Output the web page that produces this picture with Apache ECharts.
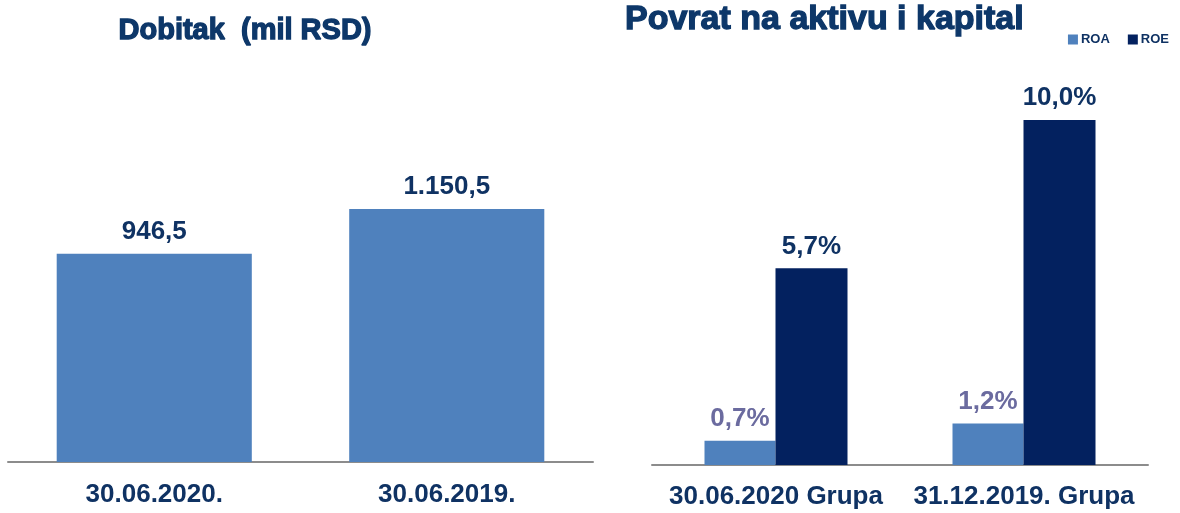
<!DOCTYPE html>
<html>
<head>
<meta charset="utf-8">
<script src="https://cdn.jsdelivr.net/npm/echarts@6/dist/echarts.min.js"></script>
<style>
  html, body { margin: 0; padding: 0; background: #fff; }
  #chart { width: 1180px; height: 513px; }
</style>
</head>
<body>
<div id="chart"></div>
<script>
// podaci
const profitDates = ['30.06.2020.', '30.06.2019.'];
const profitValues = [946.5, 1150.5];

const returnDates = ['30.06.2020 Grupa', '31.12.2019. Grupa'];
const roaValues = [0.7, 1.2];
const roeValues = [5.7, 10.0];

const navy = '#0f3263';
const titleColor = '#0d3769';

// 1150.5 -> "1.150,5"
function fmtNum(v) {
  const parts = v.toFixed(1).split('.');
  const whole = parts[0].replace(/\B(?=(\d{3})+(?!\d))/g, '.');
  return whole + ',' + parts[1];
}

const chart = echarts.init(document.getElementById('chart'));

const labelFont = { fontFamily: 'Liberation Sans', fontWeight: 'bold', fontSize: 26 };
const titleFont = {
  fontFamily: 'Liberation Sans', fontWeight: 'bold', color: titleColor,
  textBorderColor: titleColor, textBorderWidth: 1.3
};

chart.setOption({
  animation: false,
  title: [
    {
      text: 'Dobitak  (mil RSD)',
      left: 240, top: 11, textAlign: 'center',
      textStyle: Object.assign({ fontSize: 29 }, titleFont)
    },
    {
      text: 'Povrat na aktivu i kapital',
      left: 620, top: -2,
      textStyle: Object.assign({ fontSize: 34 }, titleFont)
    }
  ],
  legend: {
    data: ['ROA', 'ROE'],
    right: 6, top: 28,
    itemWidth: 10, itemHeight: 10, itemGap: 18,
    icon: 'rect',
    textStyle: { fontFamily: 'Liberation Sans', fontWeight: 'bold', fontSize: 13, color: navy, padding: [0, 0, 0, -2] }
  },
  grid: [
    { left: 8, width: 585, top: 66, bottom: 51 },
    { left: 652, width: 496, top: 51, bottom: 48 }
  ],
  xAxis: [
    {
      type: 'category', gridIndex: 0, data: profitDates,
      axisLine: { lineStyle: { color: '#8c8c8c', width: 2 } },
      axisTick: { show: false },
      axisLabel: Object.assign({ color: navy, margin: 20, interval: 0, hideOverlap: false }, labelFont)
    },
    {
      type: 'category', gridIndex: 1, data: returnDates,
      axisLine: { lineStyle: { color: '#8c8c8c', width: 2 } },
      axisTick: { show: false },
      axisLabel: Object.assign({ color: navy, margin: 19, interval: 0, hideOverlap: false }, labelFont)
    }
  ],
  yAxis: [
    { type: 'value', gridIndex: 0, min: 0, max: 1800, show: false, splitLine: { show: false } },
    { type: 'value', gridIndex: 1, min: 0, max: 12, show: false, splitLine: { show: false } }
  ],
  series: [
    {
      name: 'Dobitak', type: 'bar', xAxisIndex: 0, yAxisIndex: 0,
      data: profitValues, barWidth: '66.7%',
      itemStyle: { color: '#4f81bd' },
      label: Object.assign({
        show: true, position: 'top', distance: 9, color: navy,
        formatter: p => fmtNum(p.value)
      }, labelFont)
    },
    {
      name: 'ROA', type: 'bar', xAxisIndex: 1, yAxisIndex: 1,
      data: roaValues, barWidth: 71, barGap: '0%',
      itemStyle: { color: '#4f81bd' },
      label: Object.assign({
        show: true, position: 'top', distance: 9, color: '#6b6b9f',
        formatter: p => fmtNum(p.value) + '%'
      }, labelFont)
    },
    {
      name: 'ROE', type: 'bar', xAxisIndex: 1, yAxisIndex: 1,
      data: roeValues, barWidth: 72, barGap: '0%',
      itemStyle: { color: '#03215f' },
      label: Object.assign({
        show: true, position: 'top', distance: 9, color: navy,
        formatter: p => fmtNum(p.value) + '%'
      }, labelFont)
    }
  ]
});
</script>
</body>
</html>
